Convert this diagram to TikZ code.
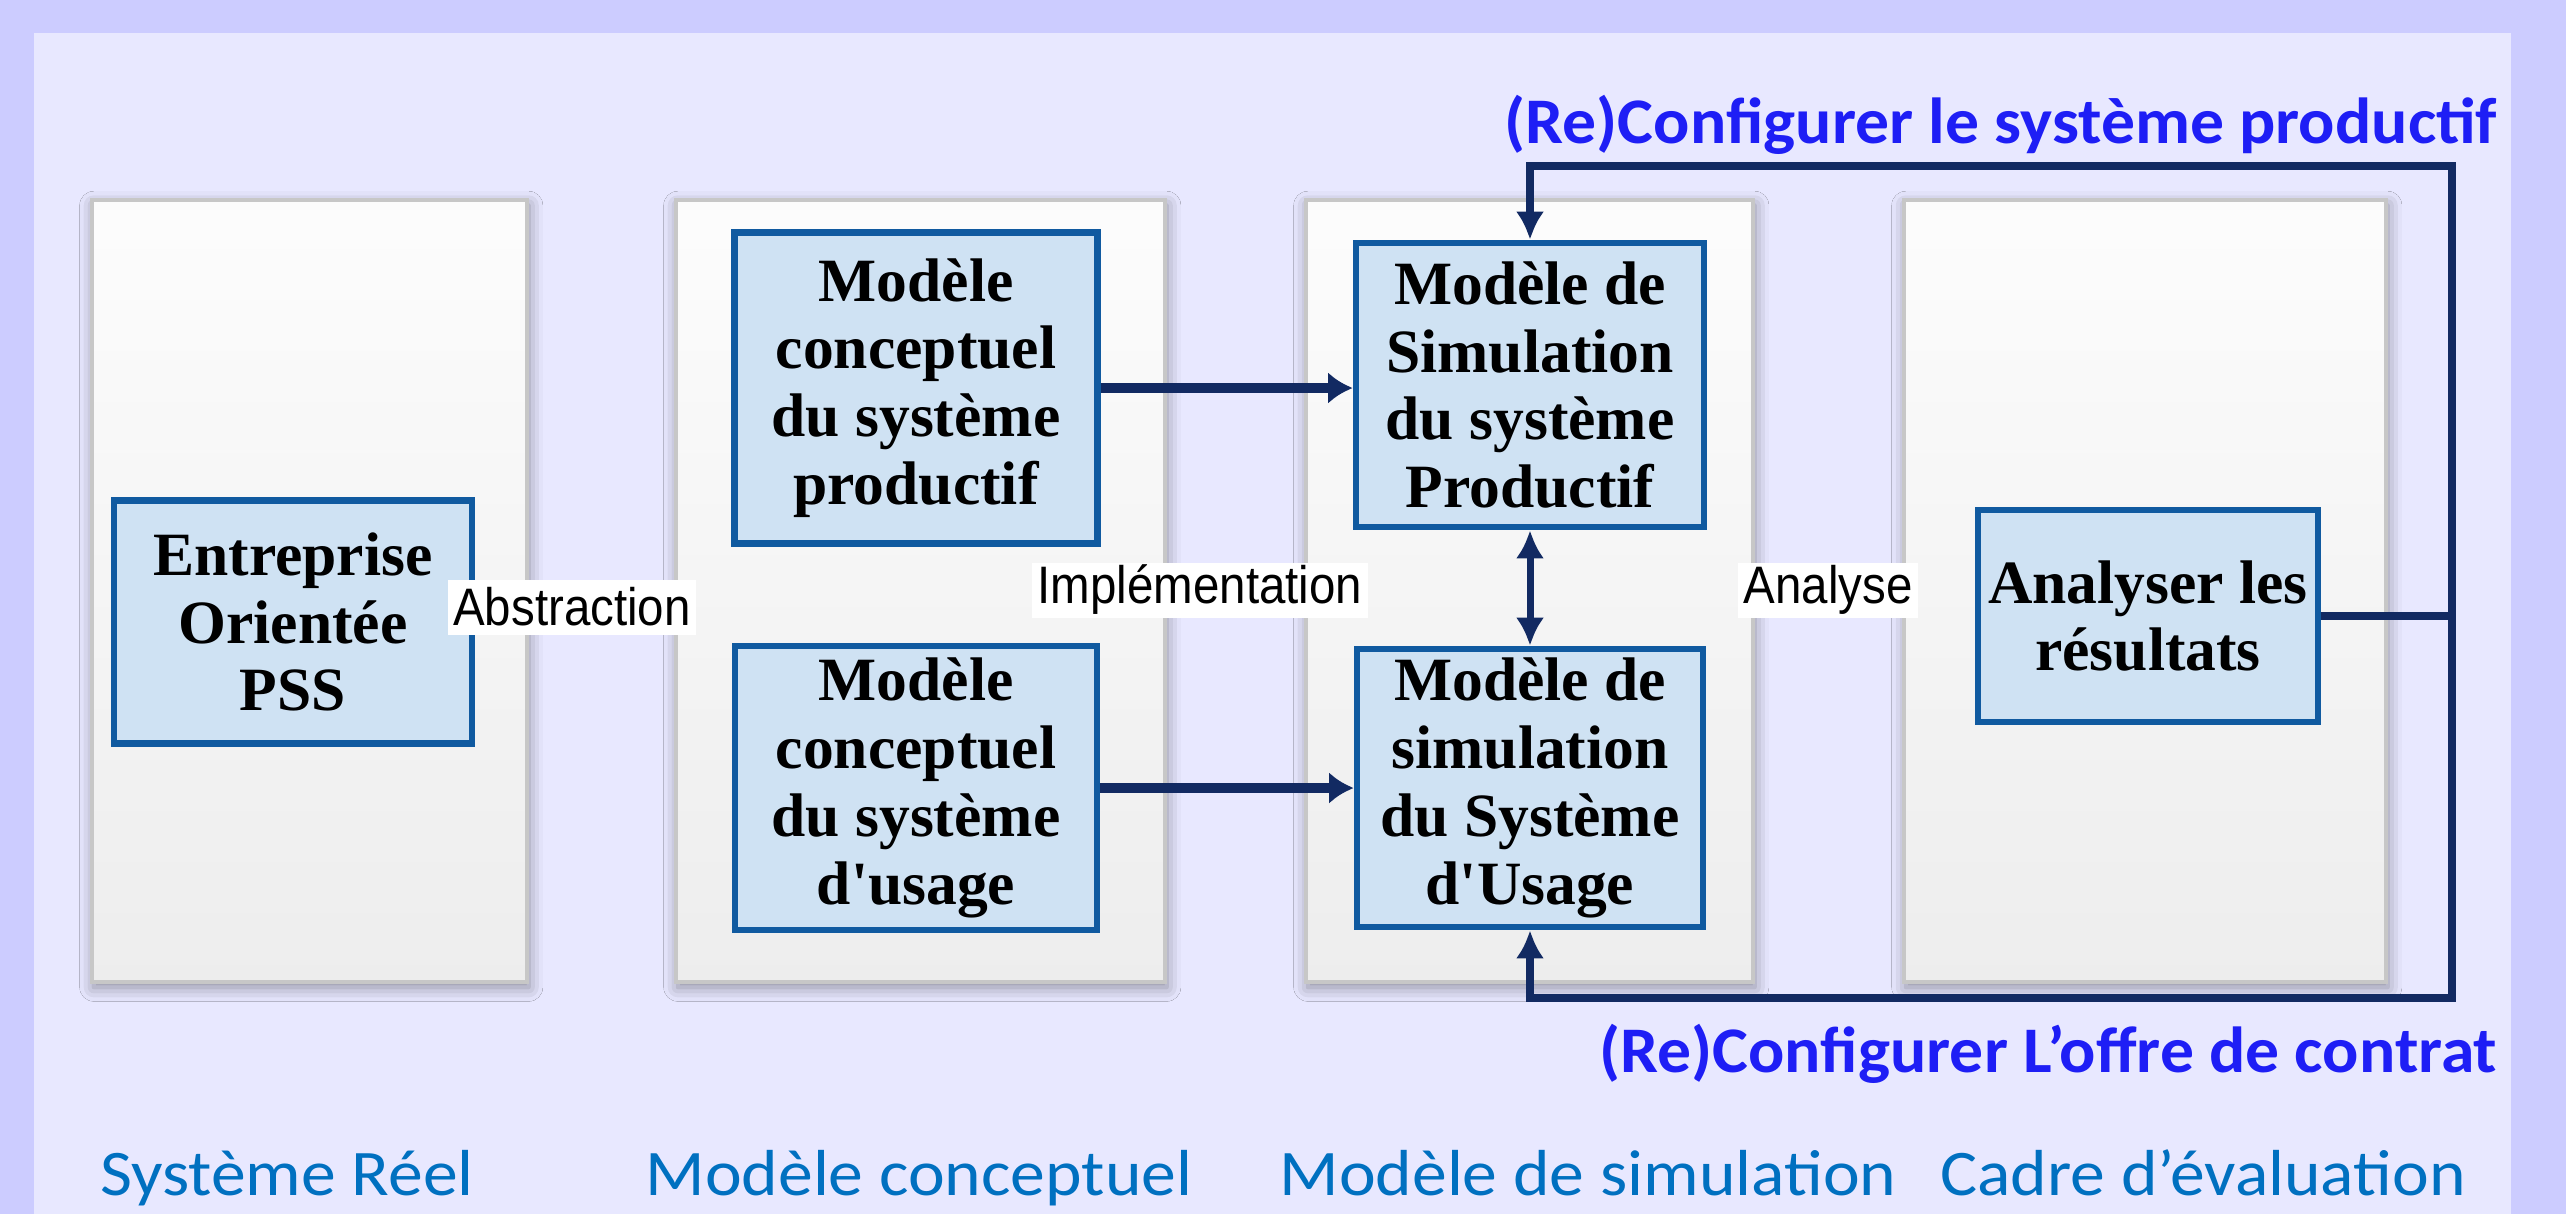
\documentclass[tikz,border=0pt]{standalone}
\usepackage{fontspec}
\usepackage{tikz}
\usetikzlibrary{positioning,arrows.meta,shadows.blur}
\newfontfamily\boxfont{Liberation Serif}
\newfontfamily\lblfont{Liberation Sans}[FakeStretch=0.9]
\newfontfamily\cfgfont{Carlito}[FakeStretch=1.04]
\newfontfamily\catfont{Carlito}[FakeStretch=1.07]
\definecolor{outerbg}{RGB}{204,204,255}
\definecolor{innerbg}{RGB}{232,232,255}
\definecolor{boxfill}{RGB}{207,226,243}
\definecolor{boxline}{RGB}{16,90,160}
\definecolor{arrowc}{RGB}{18,42,98}
\definecolor{cfgblue}{RGB}{30,30,245}
\definecolor{catblue}{RGB}{0,112,192}

\begin{document}
\begin{tikzpicture}[x=0.01cm, y=-0.01cm,
  panel/.style={top color=black!1, bottom color=black!7, draw=black!22, line width=1.4pt,
    blur shadow={shadow xshift=0.5pt, shadow yshift=-1.5pt, shadow blur radius=4pt, shadow opacity=40}},
  blk/.style={draw=boxline, line width=1.8pt, fill=boxfill, inner sep=0pt, align=center,
    font=\fontsize{17.5}{19.3}\boxfont\bfseries},
  lbl/.style={fill=white, inner xsep=1.5pt, inner ysep=0pt, minimum height=0.55cm,
    font=\fontsize{15}{18}\lblfont},
  cfg/.style={text=cfgblue, inner sep=0pt, font=\fontsize{18.5}{22}\cfgfont\bfseries},
  cat/.style={text=catblue, inner sep=0pt, font=\fontsize{18.5}{22}\catfont},
  arr/.style={draw=arrowc, line width=2pt, -{Latex[length=8pt,width=8pt]}},
  harr/.style={arr, line width=3pt, -{Latex[length=7pt,width=9pt]}},
  fb/.style={arr, line width=2.4pt}]
\useasboundingbox (0,0) rectangle (2566,1214);
% ================= background =================
\fill[outerbg] (0,0) rectangle (2566,1214);
\fill[innerbg] (34,33) rectangle (2511,1214);
\foreach \xa/\xb in {92/527,676/1165,1306/1753,1904/2386}{\path[panel] (\xa,200) rectangle (\xb,982);}
% ================= blocks =================
\node[blk, minimum width=3.58cm, minimum height=2.43cm] (ent) at (293,622) {Entreprise\\Orientée\\PSS};
\node[blk, minimum width=3.63cm, minimum height=3.11cm] (cp) at (916,388) {Modèle\\conceptuel\\du système\\productif};
\node[blk, minimum width=3.62cm, minimum height=2.84cm] (cu) at (916,788) {Modèle\\conceptuel\\du système\\d\textquotesingle usage};
\node[blk, minimum width=3.48cm, minimum height=2.84cm] (sp) at (1530,385) {Modèle de\\Simulation\\du système\\Productif};
\node[blk, minimum width=3.46cm, minimum height=2.78cm] (su) at (1530,788) {Modèle de\\simulation\\du Système\\d\textquotesingle Usage};
\node[blk, minimum width=3.40cm, minimum height=2.12cm] (ar) at (2148,616) {Analyser les\\résultats};
% ================= step labels =================
\node[lbl] (abs) at (572,607) {Abstraction};
\node[lbl] (impl) at (1200,590) {Implémentation};
\node[lbl] (ana) at (1828,590) {Analyse};
% ================= connectors =================
\draw[harr] (cp.east) -- (cp.east -| sp.west);
\draw[harr] (cu.east) -- (cu.east -| su.west);
\draw[arr, {Latex[length=8pt,width=8pt]}-{Latex[length=8pt,width=8pt]}] (sp.south) -- (su.north);
\coordinate (tr) at (2452,166);
\coordinate (br) at (2452,998);
\draw[fb] (ar.east) -- (ar.east -| tr) -- (tr) -| (sp.north);
\draw[fb] (ar.east -| br) -- (br) -| (su.south);
\node[cfg, anchor=base east] (cfgp) at (2498,143) {(Re)Configurer le système productif};
\node[cfg, anchor=base east] (cfgc) at (2498,1072) {(Re)Configurer L’offre de contrat};
% ================= column titles =================
\foreach \i/\t/\x in {1/Système Réel/287,2/Modèle conceptuel/919,3/Modèle de simulation/1588,4/Cadre d’évaluation/2203}{\node[cat, anchor=base] (col\i) at (\x,1195) {\t};}
\end{tikzpicture}
\end{document}
